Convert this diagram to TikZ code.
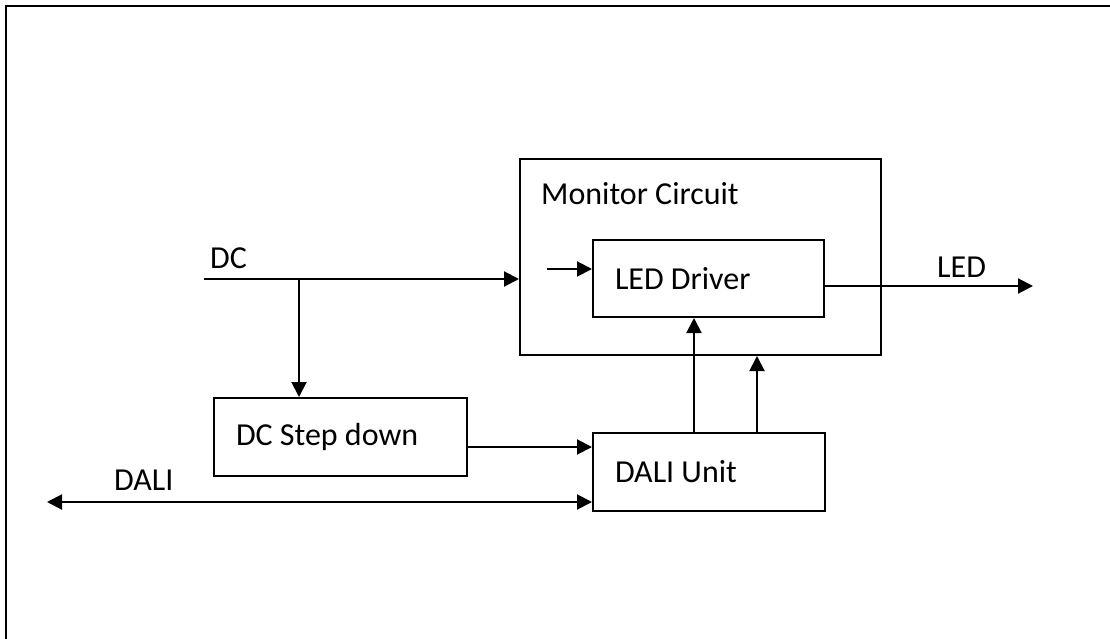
\documentclass[tikz,border=0pt]{standalone}
\usepackage{fontspec}
\setmainfont{Carlito}
\usetikzlibrary{positioning, arrows.meta, calc}

\begin{document}
\begin{tikzpicture}[x=1pt, y=-1pt, font=\fontsize{32}{38}\selectfont,
    block/.style={rectangle, draw=black, line width=2pt, inner xsep=22pt, align=flush left, anchor=north west},
    tag/.style={inner sep=0pt, anchor=west},
    link/.style={line width=2pt, -{Triangle[length=15pt, width=15pt]}},
    both/.style={line width=2pt, {Triangle[length=15pt, width=15pt]}-{Triangle[length=15pt, width=15pt]}},
]
\useasboundingbox (0,0) rectangle (1110,639);
\draw[line width=2.5pt] (6,639) -- (6,6) -- (1110,6);

\node[block, minimum width=361pt, minimum height=196pt] (mon) at (519,158) {};
\node[tag] (montext) at (541,194) {Monitor Circuit};
\node[block, text width=187pt, minimum height=77pt] (drv) at (592,239) {LED Driver};
\node[block, text width=209pt, minimum height=78pt] (step) at (213,397) {DC Step down};
\node[block, text width=188pt, minimum height=78pt] (dali) at (592,432) {DALI Unit};

\node[tag] (dctext) at (210,258) {DC};
\node[tag] (ledtext) at (937,267) {LED};
\node[tag] (dalitext) at (114,480) {DALI};

\coordinate (dcin) at (204,279);
\coordinate (dcsplit) at (299,279);
\coordinate (drvin) at (547,269);
\coordinate (ledout) at (1033,286);
\coordinate (daliend) at (47,502);
\coordinate (tap1) at (694,432);
\coordinate (tap2) at (757,432);

\draw[link] (dcin) -- (dcin -| mon.west);
\draw[link] (dcsplit) -- (dcsplit |- step.north);
\draw[link] (drvin) -- (drvin -| drv.west);
\draw[link] (drv.east |- ledout) -- (ledout);
\draw[link] ([yshift=-10pt]step.east) -- ([yshift=-10pt]step.east -| dali.west);
\draw[both] (daliend) -- (daliend -| dali.west);
\draw[link] (tap1) -- (tap1 |- drv.south);
\draw[link] (tap2) -- (tap2 |- mon.south);
\end{tikzpicture}
\end{document}
